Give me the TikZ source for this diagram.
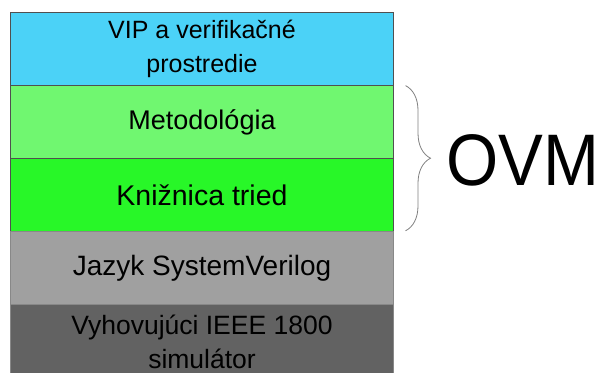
\documentclass[tikz,border=0pt]{standalone}
\usepackage[RGB]{xcolor}
\usepackage{fontspec}
\setmainfont{Liberation Sans}
\usepackage{tikz}
\usetikzlibrary{positioning,decorations.pathreplacing}
\definecolor{V}{RGB}{75,210,247}
\definecolor{M}{RGB}{112,247,112}
\definecolor{K}{RGB}{40,247,40}
\definecolor{J}{RGB}{160,160,160}
\definecolor{S}{RGB}{98,98,98}
\definecolor{E}{RGB}{80,80,80}
\newcommand{\fsize}[1]{\fontsize{#1}{34}\selectfont}
\tikzset{
  layer/.style={draw=E, line width=0.9pt, minimum width=383pt, minimum height=73.1pt,
    inner sep=2pt, outer sep=0pt, align=center, font=\fsize{25}},
  graylayer/.style={layer, draw=J!70!E}
}

\begin{document}
\begin{tikzpicture}[x=1pt,y=-1pt]
\clip (0,0) rectangle (601,372);
\node[layer, fill=V, anchor=north west] (vip) at (10.5,12.5) {VIP a verifikačné\\prostredie};
    \node[layer, fill=M, font=\fsize{27}, below=0pt of vip] (metod) {Metodológia};
    \node[layer, fill=K, font=\fsize{28.5}, below=0pt of metod] (kniz) {Knižnica tried};
    \node[graylayer, fill=J, font=\fsize{28}, below=0pt of kniz] (jazyk) {Jazyk SystemVerilog};
    \node[graylayer, fill=S, font=\fsize{26.5}, below=0pt of jazyk] (sim) {Vyhovujúci IEEE 1800\\simulátor};
\coordinate (bracetop) at ([xshift=12pt,yshift=0pt]metod.north east);
\coordinate (bracebot) at ([xshift=12pt,yshift=1pt]kniz.south east);
\draw[gray, line width=0.8pt, decorate, decoration={brace, amplitude=25pt}] (bracetop)--(bracebot);
\node[inner sep=0pt, font=\fontsize{73}{80}\selectfont] (ovm) at (522.5,160) {\scalebox{0.92}[1]{OVM}};
\end{tikzpicture}
\end{document}
